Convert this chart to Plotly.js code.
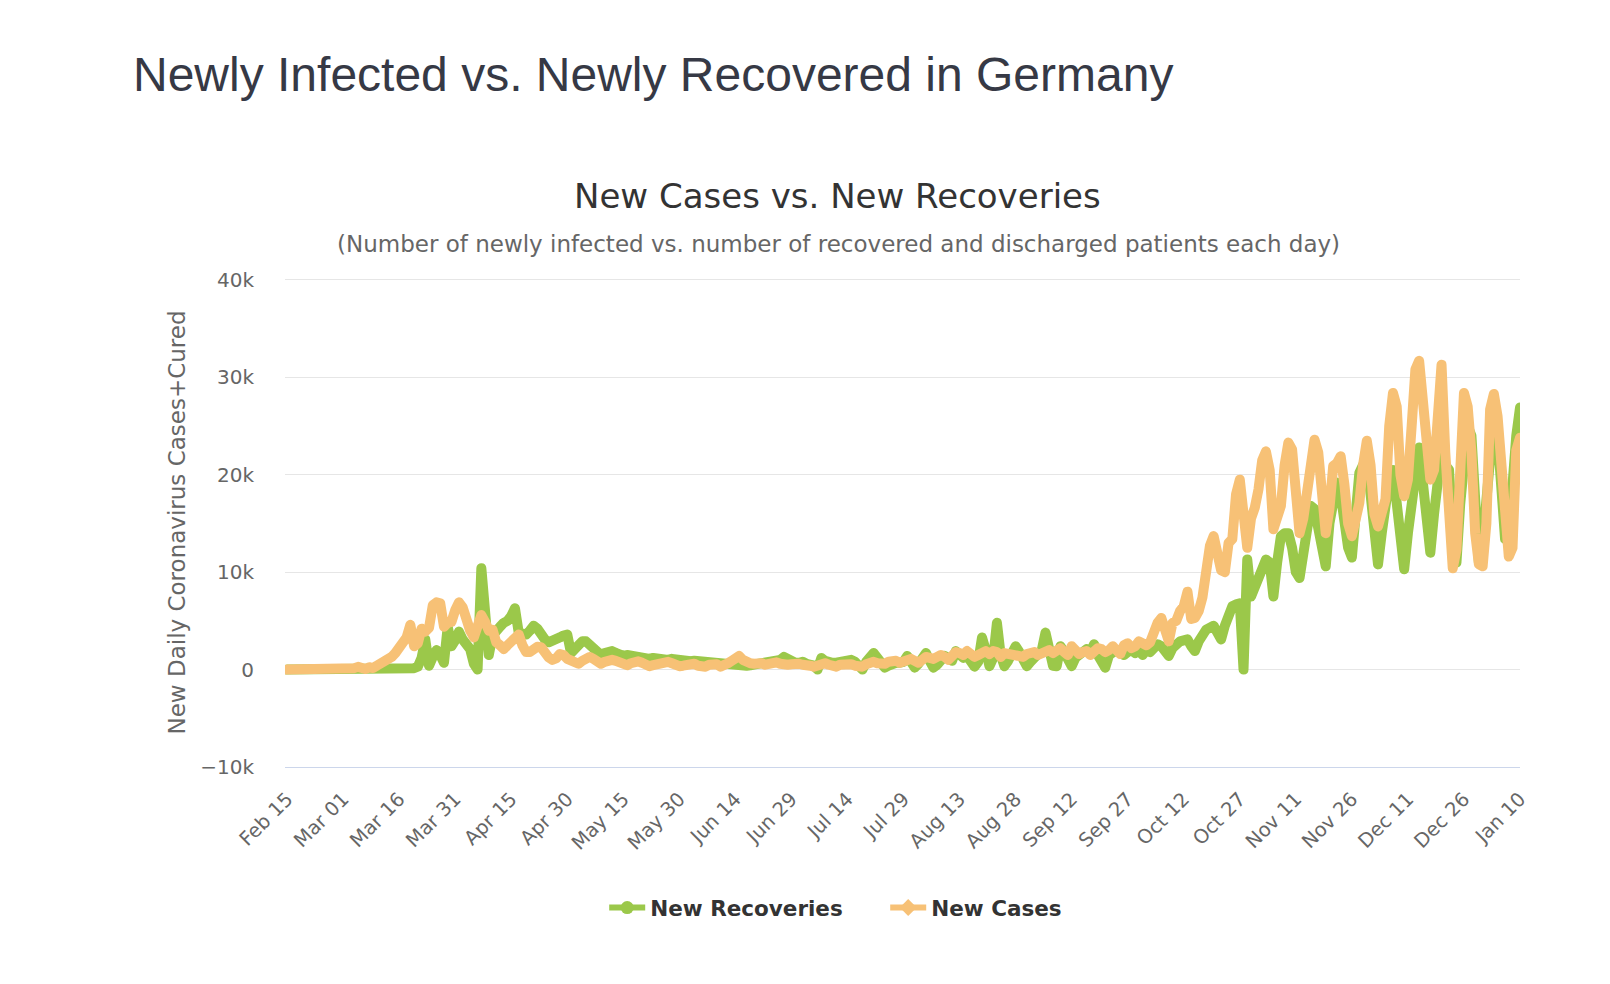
<!DOCTYPE html>
<html>
<head>
<meta charset="utf-8">
<script src="https://cdn.plot.ly/plotly-3.0.1.min.js"></script>
<style>
  html, body { margin: 0; padding: 0; background: #ffffff; }
  #chart { width: 1610px; height: 984px; }
  .scatterlayer path.js-line { stroke-linejoin: round; stroke-linecap: round; }
</style>
</head>
<body>
<div id="chart"></div>
<script>
// ---- categories: one per day, Feb 15 2020 .. Jan 10 2021 ----
const monthNames = ["Feb","Mar","Apr","May","Jun","Jul","Aug","Sep","Oct","Nov","Dec","Jan"];
const monthFirstDay = [15,1,1,1,1,1,1,1,1,1,1,1];
const monthLastDay  = [29,31,30,31,30,31,31,30,31,30,31,10];
const dates = [];
for (let m = 0; m < monthNames.length; m++) {
  for (let d = monthFirstDay[m]; d <= monthLastDay[m]; d++) {
    dates.push(monthNames[m] + " " + String(d).padStart(2, "0"));
  }
}

// ---- x tick labels (every 15 days) ----
const xTickLabels = ["Feb 15","Mar 01","Mar 16","Mar 31","Apr 15","Apr 30","May 15","May 30",
  "Jun 14","Jun 29","Jul 14","Jul 29","Aug 13","Aug 28","Sep 12","Sep 27","Oct 12","Oct 27",
  "Nov 11","Nov 26","Dec 11","Dec 26","Jan 10"];

// ---- y ticks ----
const yTickValues = [-10000, 0, 10000, 20000, 30000, 40000];
const yTickLabels = ["\u221210k", "0", "10k", "20k", "30k", "40k"];

// ---- series: New Recoveries (daily) ----
const newRecoveries = [
  0,0,0,0,0,0,0,0,0,0,0,0,0,0,0,
  0,0,2,0,0,0,0,2,0,30,0,20,0,25,0,40,60,80,120,150,
  300,1200,3100,400,1300,2000,1500,700,4400,2400,3000,3900,3100,2500,2100,600,0,10400,5500,1500,
  3500,4100,4400,4800,5000,5500,6300,3800,3700,3600,4000,4500,4200,3400,3100,2800,2900,3100,3300,3500,3600,
  1700,2200,2700,2900,2900,2500,2200,1800,1500,1700,1900,1900,1700,1500,1400,1500,1400,1300,1400,1300,
  1200,1100,1200,1100,1000,900,1000,1100,1000,1100,1000,
  900,850,900,850,800,900,950,900,800,700,750,700,600,500,400,350,400,450,500,500,
  600,700,750,750,800,1000,1300,1000,800,700,
  700,800,600,500,400,0,1200,900,700,700,700,800,900,1000,1000,800,300,0,800,1200,
  1700,1200,500,200,400,600,700,700,800,1400,900,
  200,600,1200,1700,900,200,500,1000,1400,1200,900,1900,1600,1200,1400,1000,300,800,3300,2000,
  350,1200,4800,1500,350,900,1600,2400,1800,900,350,
  800,1200,1500,2000,3800,2500,400,350,2400,1800,800,350,1200,1600,2000,2100,1800,2600,1500,600,
  200,1500,1900,2000,1700,1500,1800,2000,1700,2000,
  1500,2000,1800,2300,2600,2400,2000,1400,2200,2700,2900,3000,3100,2400,1900,2900,3800,4100,4300,4500,
  3800,3100,4500,5800,6500,6700,6800,0,11300,7500,8500,
  9200,10500,11300,11000,7500,11000,13700,14000,14000,12500,10000,9400,12500,15000,16800,16500,14000,11500,10600,15000,
  18000,19200,18000,15000,12500,11500,16000,20200,21000,21200,
  18000,13000,10800,14000,17800,19500,20500,16800,13000,10300,14000,17100,21000,22800,19200,14000,12000,16000,19900,22600,
  21000,20500,14000,11000,17000,23000,25000,24000,18000,11000,13000,
  18000,24000,26000,24000,18000,13400,14000,20000,24000,26900
];

// ---- series: New Cases (daily) ----
const newCases = [
  0,0,0,0,0,0,0,0,0,0,2,2,8,27,13,
  51,30,40,150,280,160,60,240,160,
  400,600,900,1100,1300,1700,2200,2900,3300,4600,
  2400,2700,4200,3900,4300,6600,6900,6800,4400,4800,4900,6100,6900,6400,4900,4000,3300,4300,5600,4900,
  4000,4100,2800,2500,2100,2500,2900,3400,3600,2500,1800,1800,2200,2350,2300,1500,1250,1000,1150,1600,1500,1100,
  900,600,600,900,1200,1300,1100,800,600,800,1000,1000,900,700,550,450,650,800,850,700,
  500,350,450,550,500,650,800,650,450,350,400,
  550,700,600,400,300,300,500,600,550,300,350,650,900,1200,1400,1000,700,650,600,700,
  650,500,650,800,750,600,450,500,550,650,
  600,500,550,400,300,450,550,650,500,380,300,500,600,700,550,400,350,300,550,700,
  800,650,500,600,800,950,900,700,800,1000,1100,
  900,700,1000,1300,1200,1100,1300,1500,1300,1000,1400,1800,1700,1500,1900,1700,1300,1500,1800,1900,
  1600,1900,1800,1300,1700,1600,1700,1500,1400,1300,1600,
  1700,1800,1500,1600,1900,2000,1700,1900,2200,1800,1500,2400,2100,1600,1800,1900,1500,1900,2200,2100,
  1800,2000,2400,2000,1600,2500,2700,2200,2400,2900,
  2600,2500,2800,4100,4800,5300,4000,2900,4800,5000,6000,
  6500,8000,5200,5300,6000,7400,10500,12700,13700,12000,10200,10000,13000,13400,18000,19500,16000,12500,15500,16600,
  18500,21500,22400,20500,14400,15500,16800,21000,23300,22600,18000,14000,15500,18500,22000,23600,22300,18000,14000,16500,
  20900,21200,21900,19000,15000,13700,15500,17100,21000,23500,
  21000,16000,14700,16000,17500,25000,28400,27000,20000,17800,19500,25000,30800,31700,28000,24700,19500,20500,27000,31300,
  22300,15000,10400,12300,20000,28400,27000,22300,14000,10800,10600,
  15000,26700,28300,26000,19900,16000,11600,12500,22500,23800
];

const greenColor = "#9bc84a";
const orangeColor = "#f7c176";

const traces = [
  { x: dates, y: newRecoveries, type: "scatter", mode: "lines", name: "New Recoveries",
    line: { color: greenColor, width: 10 }, showlegend: false },
  { x: dates, y: newCases, type: "scatter", mode: "lines", name: "New Cases",
    line: { color: orangeColor, width: 10 }, showlegend: false },
  // legend entries
  { x: [null], y: [null], type: "scatter", mode: "lines+markers", name: "New Recoveries",
    line: { color: greenColor, width: 6 }, marker: { color: greenColor, size: 13, symbol: "circle" } },
  { x: [null], y: [null], type: "scatter", mode: "lines+markers", name: "New Cases",
    line: { color: orangeColor, width: 6 }, marker: { color: orangeColor, size: 13, symbol: "diamond" } }
];

const layout = {
  width: 1610, height: 984,
  paper_bgcolor: "#ffffff", plot_bgcolor: "#ffffff",
  margin: { l: 285, r: 90, t: 278, b: 217, pad: 0 },
  title: {
    text: "Newly Infected vs. Newly Recovered in Germany",
    font: { family: "Liberation Sans, Arial, sans-serif", size: 48, color: "#363945" },
    x: 133 / 1610, xanchor: "left", xref: "container",
    y: 1 - 74 / 984, yanchor: "middle", yref: "container"
  },
  xaxis: {
    type: "category",
    range: [-0.55, 330],
    tickmode: "array", tickvals: xTickLabels, ticktext: xTickLabels,
    tickangle: -45,
    tickfont: { family: "DejaVu Sans, sans-serif", size: 19.5, color: "#666666" },
    ticklabelstandoff: 12,
    showgrid: false, zeroline: false,
    showline: true, linecolor: "#ccd6eb", linewidth: 1,
    ticks: "", fixedrange: true
  },
  yaxis: {
    range: [-10000, 40200],
    tickmode: "array", tickvals: yTickValues, ticktext: yTickLabels,
    tickfont: { family: "DejaVu Sans, sans-serif", size: 20, color: "#666666" },
    showgrid: true, gridcolor: "#e6e6e6", gridwidth: 1,
    zeroline: false, showline: false, ticks: "",
    ticklabelstandoff: 30,
    title: { text: "New Daily Coronavirus Cases+Cured", standoff: 8,
      font: { family: "DejaVu Sans, sans-serif", size: 23, color: "#666666" } },
    fixedrange: true
  },
  showlegend: true,
  legend: {
    orientation: "h", x: 0.486, xanchor: "center", y: -0.2875, yanchor: "middle",
    font: { family: "DejaVu Sans, sans-serif", size: 21.5, color: "#333333", weight: "bold" },
    itemwidth: 36, entrywidth: 230, bgcolor: "rgba(0,0,0,0)"
  },
  annotations: [
    { text: "New Cases vs. New Recoveries", xref: "paper", yref: "paper",
      x: 0.4473, y: 1.1677, xanchor: "center", yanchor: "middle", showarrow: false,
      font: { family: "DejaVu Sans, sans-serif", size: 34, color: "#333333" } },
    { text: "(Number of newly infected vs. number of recovered and discharged patients each day)",
      xref: "paper", yref: "paper", x: 0.4481, y: 1.0695, xanchor: "center", yanchor: "middle",
      showarrow: false,
      font: { family: "DejaVu Sans, sans-serif", size: 23, color: "#666666" } }
  ],
  hovermode: false
};

Plotly.newPlot("chart", traces, layout, { displayModeBar: false, staticPlot: true });
</script>
</body>
</html>
